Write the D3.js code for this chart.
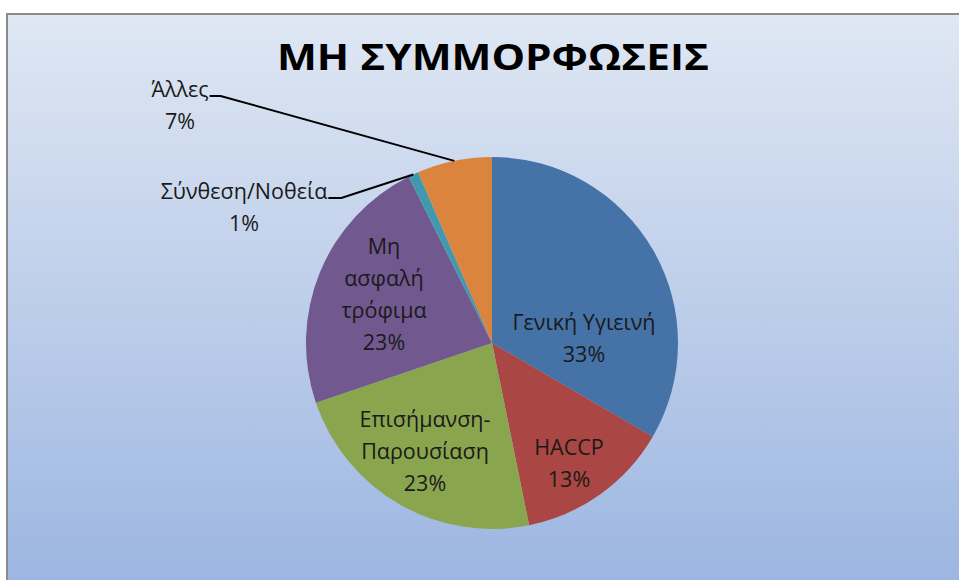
<!DOCTYPE html>
<html>
<head>
<meta charset="utf-8">
<script src="https://cdn.jsdelivr.net/npm/d3@7"></script>
<style>
  html, body { margin: 0; padding: 0; background: #ffffff; }
  svg { display: block; }
</style>
</head>
<body>
<svg id="chart" width="959" height="580"></svg>
<script>
// ---- data ----
const categories = ["Γενική Υγιεινή", "HACCP", "Επισήμανση-Παρουσίαση", "Μη ασφαλή τρόφιμα", "Σύνθεση/Νοθεία", "Άλλες"];
const values = [33.4, 13.4, 23.0, 22.8, 0.9, 6.5];
const percentLabels = ["33%", "13%", "23%", "23%", "1%", "7%"];
const labelLines = [
  ["Γενική Υγιεινή"],
  ["HACCP"],
  ["Επισήμανση-", "Παρουσίαση"],
  ["Μη", "ασφαλή", "τρόφιμα"],
  ["Σύνθεση/Νοθεία"],
  ["Άλλες"]
];
const colors = ["#4572A7", "#AA4643", "#89A54E", "#71588F", "#4198AF", "#DB843D"];
const title = "ΜΗ ΣΥΜΜΟΡΦΩΣΕΙΣ";

// ---- layout ----
const W = 959, H = 580;
const cx = 492, cy = 343, R = 186;
// label block centres relative to pie centre; leader flag for outside labels
const labelLayout = [
  { dx: 92, dy: -5, leader: false },
  { dx: 77, dy: 120, leader: false },
  { dx: -67, dy: 108, leader: false },
  { dx: -108, dy: -49, leader: false },
  { dx: -248, dy: -136, leader: true, hook: 13 },
  { dx: -312, dy: -238, leader: true, hook: 11 }
];
const lineH = 32;

const svg = d3.select("#chart");
const defs = svg.append("defs");
const grad = defs.append("linearGradient").attr("id", "bg").attr("x1", 0).attr("y1", 0).attr("x2", 0).attr("y2", 1);
grad.append("stop").attr("offset", "0%").attr("stop-color", "#dfe7f3");
grad.append("stop").attr("offset", "100%").attr("stop-color", "#9bb5e1");

svg.append("rect").attr("x", 0).attr("y", 0).attr("width", W).attr("height", H).attr("fill", "#ffffff");
svg.append("rect").attr("x", 7).attr("y", 14).attr("width", W).attr("height", H)
  .attr("fill", "url(#bg)").attr("stroke", "#8c8c8c").attr("stroke-width", 2);

svg.append("text").attr("x", 493).attr("y", 70)
  .attr("text-anchor", "middle")
  .attr("font-family", "'Open Sans', 'DejaVu Sans', sans-serif")
  .attr("font-weight", "bold").attr("font-size", 36)
  .attr("textLength", 432).attr("lengthAdjust", "spacingAndGlyphs")
  .attr("fill", "#000").text(title);

const pie = d3.pie().sort(null).value(d => d);
const arcs = pie(values);
const arc = d3.arc().innerRadius(0).outerRadius(R);

const g = svg.append("g").attr("transform", `translate(${cx},${cy})`);
g.selectAll("path.slice").data(arcs).enter().append("path")
  .attr("class", "slice")
  .attr("d", arc)
  .attr("fill", (d, i) => colors[i]);

const font = "'Open Sans', 'DejaVu Sans', sans-serif";
arcs.forEach((a, i) => {
  const L = labelLayout[i];
  const lines = labelLines[i].concat([percentLabels[i]]);
  const n = lines.length;
  const t = g.append("text")
    .attr("text-anchor", "middle")
    .attr("font-family", font).attr("font-size", 21.5)
    .attr("fill", "#1a1a1a");
  lines.forEach((s, k) => {
    t.append("tspan").attr("x", L.dx)
      .attr("y", L.dy + (k - (n - 1) / 2) * lineH)
      .attr("dy", "0.35em").text(s);
  });
  if (L.leader) {
    const mid = (a.startAngle + a.endAngle) / 2;
    const ex = Math.sin(mid) * R, ey = -Math.cos(mid) * R;
    const w = t.node().getBBox();
    const firstY = L.dy - (n - 1) / 2 * lineH + 7;
    const sx = w.x + w.width + 1;
    g.append("path")
      .attr("d", `M${sx},${firstY}L${sx + L.hook},${firstY}L${ex},${ey}`)
      .attr("fill", "none").attr("stroke", "#000").attr("stroke-width", 2);
  }
});
</script>
</body>
</html>
